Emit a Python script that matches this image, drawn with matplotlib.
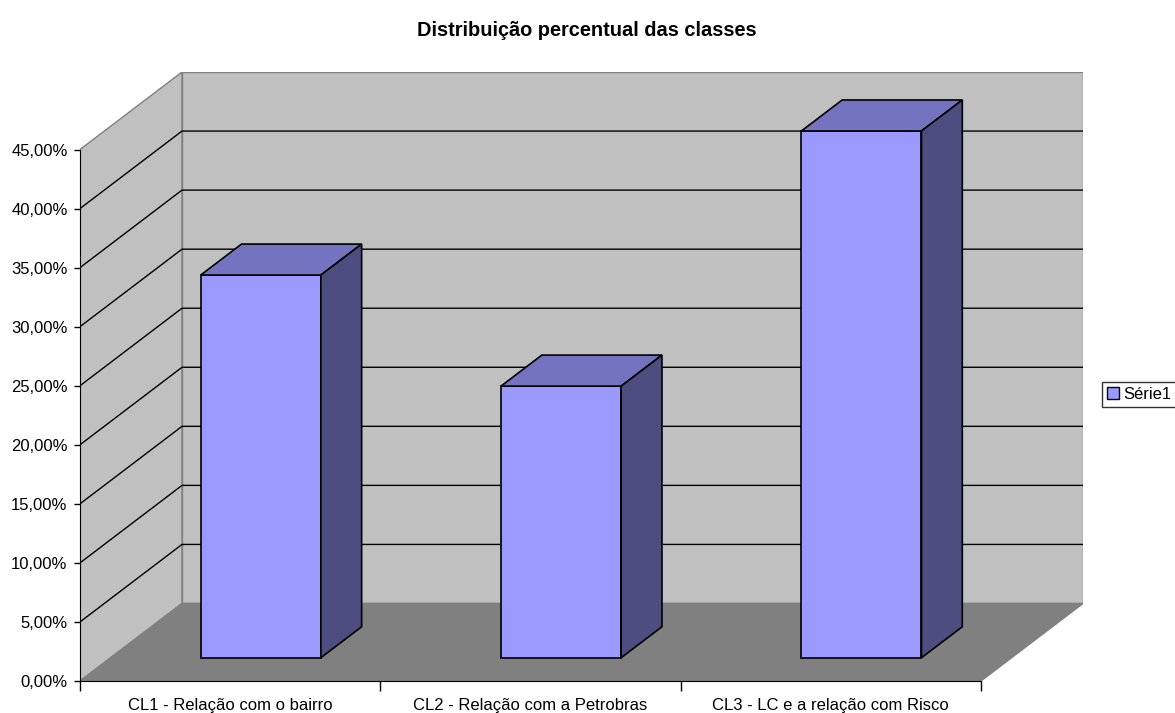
import numpy as np
import matplotlib.pyplot as plt
from matplotlib.patches import Polygon, Patch

plt.rcParams['font.family'] = ['Liberation Sans', 'DejaVu Sans']

# data
categorias = ["CL1 - Relação com o bairro",
              "CL2 - Relação com a Petrobras",
              "CL3 - LC e a relação com Risco"]
valores = [32.4, 23.0, 44.6]  # percent
yticks = [0, 5, 10, 15, 20, 25, 30, 35, 40, 45]
ytick_labels = ["0,00%", "5,00%", "10,00%", "15,00%", "20,00%",
                "25,00%", "30,00%", "35,00%", "40,00%", "45,00%"]
titulo = "Distribuição percentual das classes"
serie = "Série1"

# 3d look (oblique projection), depth offsets in data units
ddx = 102 / 300.33
ddy = 77.5 / 11.81
f0, f1 = 0.3, 0.7
ymax = yticks[-1]
n = len(categorias)

c_front = '#9999FF'
c_top = '#7373BF'
c_side = '#4D4D80'
c_wall = '#C0C0C0'
c_floor = '#808080'
c_edge = '#808080'
fs = 12

fig = plt.figure(figsize=(11.75, 7.13), dpi=100)
ax = fig.add_axes([80 / 1175, 32 / 713, 1003 / 1175, 609 / 713])
ax.set_xlim(0, n + ddx)
ax.set_ylim(0, ymax + ddy)
ax.patch.set_visible(False)

# walls and floor
left_wall = Polygon([(0, 0), (ddx, ddy), (ddx, ymax + ddy), (0, ymax)],
                    facecolor=c_wall, edgecolor=c_edge, lw=1, zorder=1)
back_wall = Polygon([(ddx, ddy), (n + ddx, ddy), (n + ddx, ymax + ddy), (ddx, ymax + ddy)],
                    facecolor=c_wall, edgecolor=c_edge, lw=1, zorder=1)
floor = Polygon([(0, 0), (n, 0), (n + ddx, ddy), (ddx, ddy)],
                facecolor=c_floor, edgecolor=c_edge, lw=1, zorder=1)
for p in (left_wall, back_wall, floor):
    ax.add_patch(p)

# gridlines on side wall and back wall
for v in yticks[1:-1]:
    ax.plot([0, ddx, n + ddx], [v, v + ddy, v + ddy], color='black', lw=1, zorder=2)

# bars
bx = (f1 - f0) * ddx
by = (f1 - f0) * ddy
for i, v in enumerate(valores):
    x0 = i + 0.3 + f0 * ddx
    x1 = i + 0.7 + f0 * ddx
    yb = f0 * ddy
    yt = yb + v
    front = Polygon([(x0, yb), (x1, yb), (x1, yt), (x0, yt)])
    top = Polygon([(x0, yt), (x1, yt), (x1 + bx, yt + by), (x0 + bx, yt + by)])
    side = Polygon([(x1, yb), (x1 + bx, yb + by), (x1 + bx, yt + by), (x1, yt)])
    for p, c in ((front, c_front), (top, c_top), (side, c_side)):
        p.set_facecolor(c)
        p.set_edgecolor('black')
        p.set_linewidth(1.2)
        p.set_joinstyle('miter')
        p.set_zorder(3)
        ax.add_patch(p)

# axes
for s in ('top', 'right'):
    ax.spines[s].set_visible(False)
ax.spines['left'].set_bounds(0, ymax)
ax.spines['bottom'].set_bounds(0, n)
ax.spines['left'].set_zorder(4)
ax.spines['bottom'].set_zorder(4)
ax.set_yticks(yticks)
ax.set_yticklabels(ytick_labels)
ax.tick_params(axis='y', direction='out', length=4, width=1, pad=5, labelsize=fs)
ax.set_xticks(np.arange(n + 1))
ax.set_xticklabels([])
ax.tick_params(axis='x', which='major', direction='out', length=7, width=1)
ax.set_xticks(np.arange(n) + 0.5, minor=True)
ax.set_xticklabels(categorias, minor=True)
ax.tick_params(axis='x', which='minor', length=0, pad=12, labelsize=fs)

fig.text(587 / 1175, 1 - 31 / 713, titulo, ha='center', va='center',
         fontweight='bold', fontsize=14.4)

leg = fig.legend(handles=[Patch(facecolor=c_front, edgecolor='black', label=serie)],
                 loc='upper left', bbox_to_anchor=(1102 / 1175, 1 - 382 / 713),
                 fontsize=fs, frameon=True, fancybox=False, handlelength=0.7,
                 handleheight=0.7, handletextpad=0.3, borderpad=0.3,
                 borderaxespad=0)
leg.get_frame().set_edgecolor('black')
leg.get_frame().set_linewidth(1)

fig.savefig('out.png', dpi=100, facecolor='white')
